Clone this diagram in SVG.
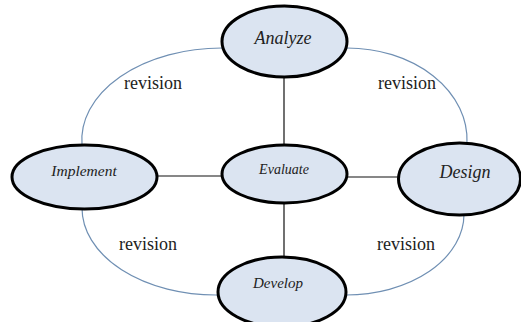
<svg xmlns="http://www.w3.org/2000/svg" width="521" height="322" viewBox="0 0 521 322">
<style>
.node ellipse{fill:#dbe4f1;stroke:#000;stroke-width:3}
.node text{font-family:"Liberation Serif",serif;font-style:italic;fill:#222;text-anchor:middle}
.arc{fill:none;stroke:#6f8fb3;stroke-width:1.2}
.line{stroke:#111;stroke-width:1.2}
.lbl{font-family:"Liberation Serif",serif;font-size:18px;fill:#222;text-anchor:middle}
</style>
<rect width="521" height="322" fill="#fff"/>
<g id="connectors">
<path class="arc" d="M222,48 A140,92 0 0,0 82,145"/>
<path class="arc" d="M347,48 A120,92 0 0,1 467,143"/>
<path class="arc" d="M82,208 A134,87 0 0,0 217,295"/>
<path class="arc" d="M464,214 A118,81 0 0,1 346,295"/>
<line class="line" x1="284" y1="78" x2="284" y2="145"/>
<line class="line" x1="157" y1="176" x2="222" y2="176"/>
<line class="line" x1="347" y1="177" x2="398" y2="177"/>
<line class="line" x1="284" y1="203" x2="284" y2="257"/>
<text class="lbl" x="153" y="89">revision</text>
<text class="lbl" x="407" y="89">revision</text>
<text class="lbl" x="148" y="250">revision</text>
<text class="lbl" x="406" y="250">revision</text>
</g>
<g id="analyze" class="node">
<ellipse cx="284.5" cy="41.5" rx="62.5" ry="35.5"/>
<text x="283" y="44" font-size="18">Analyze</text>
</g>
<g id="implement" class="node">
<ellipse cx="84.5" cy="177" rx="72.5" ry="32"/>
<text x="84" y="176" font-size="15.5">Implement</text>
</g>
<g id="evaluate" class="node">
<ellipse cx="284.5" cy="174" rx="62.5" ry="29"/>
<text x="284" y="174" font-size="14">Evaluate</text>
</g>
<g id="design" class="node">
<ellipse cx="459.5" cy="179" rx="61" ry="36"/>
<text x="465" y="178" font-size="18">Design</text>
</g>
<g id="develop" class="node">
<ellipse cx="282" cy="292" rx="64" ry="35"/>
<text x="278" y="288" font-size="15">Develop</text>
</g>
</svg>
